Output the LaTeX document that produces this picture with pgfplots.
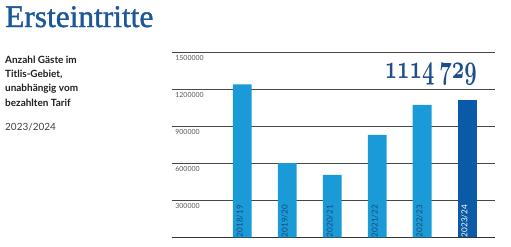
\documentclass[border=0pt]{standalone}
\usepackage{fontspec}
\setmainfont{Lato}
\newfontfamily\titlefont{Liberation Serif}[FakeBold=1.3]
\usepackage{graphicx}
\usepackage{pgfplots}
\pgfplotsset{compat=1.18}
\definecolor{barlight}{RGB}{26,155,215}
\definecolor{bardark}{RGB}{10,90,168}
\definecolor{titleblue}{RGB}{28,88,152}
\definecolor{numblue}{RGB}{30,78,140}
\definecolor{lblblue}{RGB}{28,72,118}
\begin{document}
\begin{tikzpicture}[x=1bp,y=1bp]
\useasboundingbox (0,0) rectangle (511,246);
\node[anchor=base west, inner sep=0, text=titleblue, font=\titlefont\fontsize{31.5}{36}\selectfont] at (5,219) {Ersteintritte};
\begin{scope}[every node/.style={anchor=base west, inner sep=0, text=black!88, font=\bfseries\fontsize{10}{12}\selectfont}]
\node at (5,182.7) {Anzahl Gäste im};
\node at (5,168.4) {Titlis-Gebiet,};
\node at (5,154.1) {unabhängig vom};
\node at (5,139.8) {bezahlten Tarif};
\end{scope}
\node[anchor=base west, inner sep=0, text=black!75, font=\fontsize{10}{12}\selectfont] at (5,116) {2023/2024};
\begin{axis}[
  at={(171.7bp,8.7bp)}, anchor=south west,
  scale only axis, width=323.3bp, height=185.3bp,
  xmin=-1.57, xmax=5.62, ymin=0, ymax=1500000,
  clip=false,
  axis line style={draw=none},
  major tick length=0pt,
  ybar, bar shift=0pt, bar width=0.42,
  ytick={300000,600000,900000,1200000,1500000},
  extra y ticks={0}, extra y tick labels={},
  extra y tick style={grid style={draw=black!80, line width=1.6bp}},
  ymajorgrids, grid style={draw=black!72, line width=0.8bp},
  scaled y ticks=false,
  yticklabel style={anchor=north west, inner sep=2bp, xshift=1.5bp, yshift=-1bp, text=black!65, font=\fontsize{7}{8}\selectfont,
    /pgf/number format/fixed, /pgf/number format/1000 sep={}, /pgf/number format/assume math mode=true},
  xtick=\empty,
]
\addplot[fill=barlight, draw=none] coordinates {(0,1237000) (1,601000) (2,506000) (3,830000) (4,1072000)};
\addplot[fill=bardark, draw=none] coordinates {(5,1114729)};
\begin{scope}[every node/.style={rotate=90, anchor=west, inner sep=0, font=\fontsize{8.2}{9}\selectfont}]
\node[text=lblblue] at (axis cs:0,0) [yshift=2.5bp] {2018/19};
\node[text=lblblue] at (axis cs:1,0) [yshift=2.5bp] {2019/20};
\node[text=lblblue] at (axis cs:2,0) [yshift=2.5bp] {2020/21};
\node[text=lblblue] at (axis cs:3,0) [yshift=2.5bp] {2021/22};
\node[text=lblblue] at (axis cs:4,0) [yshift=2.5bp] {2022/23};
\node[text=white] at (axis cs:5,0) [yshift=2.5bp] {2023/24};
\end{scope}
\end{axis}
\node[anchor=base east, inner sep=0, text=numblue] at (477,168) {\resizebox{92bp}{15bp}{\usefont{OML}{cmm}{b}{it}1114\hspace{0.2em}729}};
\end{tikzpicture}
\end{document}
